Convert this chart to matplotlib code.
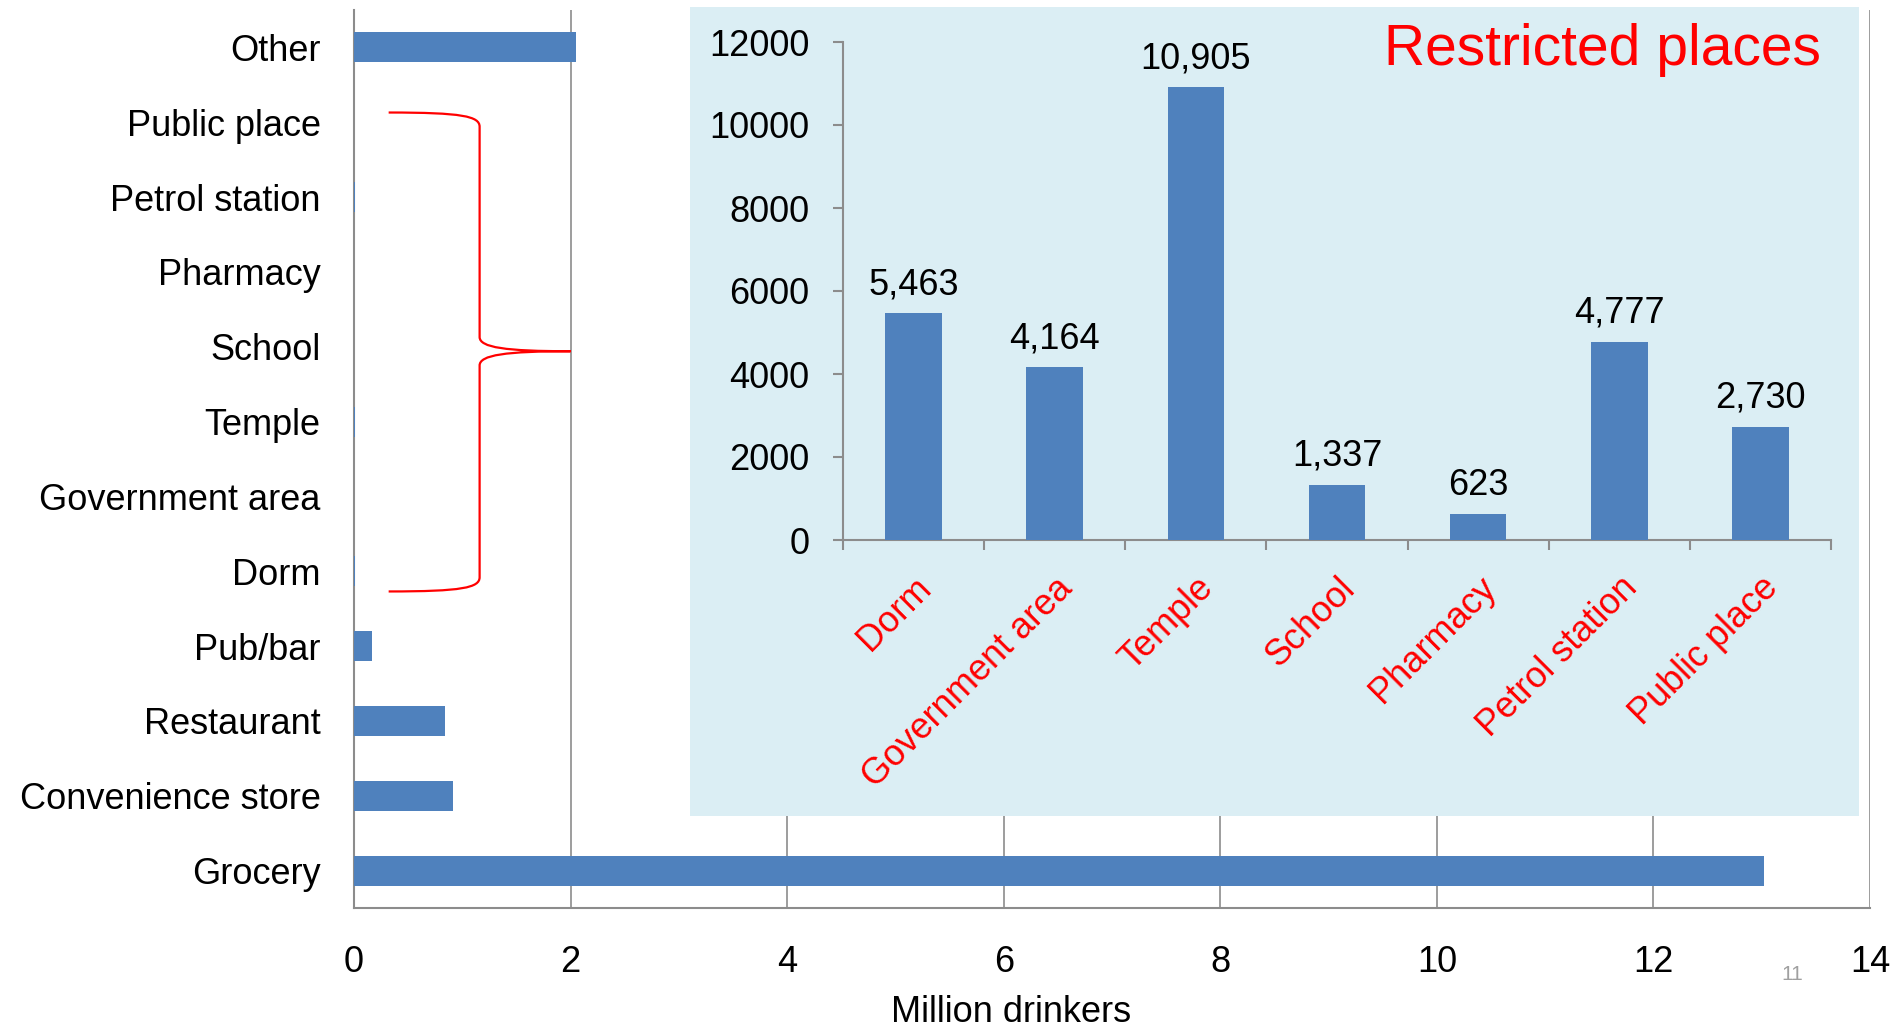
import matplotlib
matplotlib.use("Agg")
import matplotlib.pyplot as plt
from matplotlib.path import Path
from matplotlib.patches import PathPatch

plt.rcParams['font.family'] = ['Liberation Sans', 'DejaVu Sans']

# ---- main chart data (million drinkers), bottom to top ----
main_categories = ["Grocery", "Convenience store", "Restaurant", "Pub/bar",
                   "Dorm", "Government area", "Temple", "School",
                   "Pharmacy", "Petrol station", "Public place", "Other"]
main_values = [13.02, 0.91, 0.84, 0.17,
               0.005463, 0.004164, 0.010905, 0.001337,
               0.000623, 0.004777, 0.00273, 2.05]
main_xticks = [0, 2, 4, 6, 8, 10, 12, 14]

# ---- inset data (drinkers) ----
inset_categories = ["Dorm", "Government area", "Temple", "School",
                    "Pharmacy", "Petrol station", "Public place"]
inset_values = [5463, 4164, 10905, 1337, 623, 4777, 2730]
inset_yticks = [0, 2000, 4000, 6000, 8000, 10000, 12000]

BAR = "#4F81BD"
GRID = "#8C8C8C"
FS = 26
W, H = 1895, 1027

fig = plt.figure(figsize=(W / 100, H / 100), dpi=100)

# main axes
ax = fig.add_axes([354 / W, 1 - 908 / H, (1870 - 354) / W, (908 - 10) / H])
ax.set_zorder(0)
ypos = list(range(len(main_categories)))
ax.barh(ypos, main_values, height=0.4, color=BAR, zorder=3)
ax.set_xlim(0, 14)
ax.set_ylim(-0.5, len(main_categories) - 0.5)
ax.set_xticks(main_xticks)
ax.set_xticklabels([str(v) for v in main_xticks], fontsize=FS)
ax.set_yticks(ypos)
ax.set_yticklabels(main_categories, fontsize=FS)
ax.tick_params(axis='x', length=0, pad=27)
ax.tick_params(axis='y', length=0, pad=24)
ax.grid(axis='x', color=GRID, linewidth=1.2, zorder=0)
for s in ['top', 'right']:
    ax.spines[s].set_visible(False)
for s in ['left', 'bottom']:
    ax.spines[s].set_color(GRID)
    ax.spines[s].set_linewidth(1.5)

# red brace
verts = [(0.32, 10.13), (1.0, 10.13), (1.16, 10.08), (1.16, 9.94),
         (1.16, 7.13),
         (1.16, 6.99), (1.4, 6.94), (2.0, 6.94),
         (1.4, 6.94), (1.16, 6.89), (1.16, 6.75),
         (1.16, 3.92),
         (1.16, 3.78), (1.0, 3.73), (0.32, 3.73)]
codes = [Path.MOVETO, Path.CURVE4, Path.CURVE4, Path.CURVE4,
         Path.LINETO,
         Path.CURVE4, Path.CURVE4, Path.CURVE4,
         Path.CURVE4, Path.CURVE4, Path.CURVE4,
         Path.LINETO,
         Path.CURVE4, Path.CURVE4, Path.CURVE4]
ax.add_patch(PathPatch(Path(verts, codes), facecolor='none', edgecolor='red',
                       linewidth=1.6, zorder=5))

fig.text(1011 / W, 1 - 1013 / H, "Million drinkers", fontsize=FS,
         ha='center', va='center')

# inset background
bg = fig.add_axes([690 / W, 1 - 816 / H, (1859 - 690) / W, (816 - 7) / H])
bg.set_facecolor("#DBEEF4")
bg.set_xticks([]); bg.set_yticks([])
for s in bg.spines.values():
    s.set_visible(False)
bg.set_zorder(1)

# inset axes
ia = fig.add_axes([843 / W, 1 - 540 / H, (1831 - 843) / W, (540 - 42) / H])
ia.set_zorder(2)
ia.patch.set_alpha(0)
xi = list(range(len(inset_categories)))
ia.bar(xi, inset_values, width=0.4, color=BAR, zorder=3)
ia.set_xlim(-0.5, len(inset_categories) - 0.5)
ia.set_ylim(0, 12000)
ia.set_yticks(inset_yticks)
ia.set_yticklabels([str(v) for v in inset_yticks], fontsize=FS)
ia.tick_params(axis='y', length=7, width=1.5, color=GRID, pad=17)
ia.set_xticks([i - 0.5 for i in range(len(inset_categories) + 1)], minor=False)
ia.set_xticklabels([''] * (len(inset_categories) + 1))
ia.tick_params(axis='x', which='major', length=7, width=1.5, color=GRID)
ia.set_xticks(xi, minor=True)
ia.set_xticklabels(inset_categories, minor=True, fontsize=FS, color='red',
                   rotation=45, ha='right', rotation_mode='anchor')
ia.tick_params(axis='x', which='minor', length=0, pad=22)
for s in ['top', 'right']:
    ia.spines[s].set_visible(False)
for s in ['left', 'bottom']:
    ia.spines[s].set_color(GRID)
    ia.spines[s].set_linewidth(1.5)
for x, v in zip(xi, inset_values):
    ia.annotate(f"{v:,}", (x, v), xytext=(0, 8), textcoords='offset points',
                ha='center', va='bottom', fontsize=FS)

fig.text(1821 / W, 1 - 50 / H, "Restricted places", fontsize=41, color='red',
         ha='right', va='center', zorder=5)

fig.text(1792 / W, 1 - 974 / H, "11", fontsize=15, color='#A0A0A0',
         ha='center', va='center')

fig.savefig("out.png", dpi=100)
